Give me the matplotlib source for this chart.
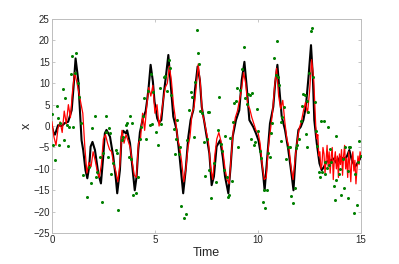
import matplotlib
matplotlib.use("Agg")
import matplotlib.pyplot as plt

# True trajectory (black)
true_t = [0.00,0.08,0.15,0.30,0.47,0.63,0.79,0.96,1.05,1.15,1.28,1.36,1.44,1.52,1.63,1.72,1.81,1.88,1.97,2.09,
          2.25,2.38,2.49,2.57,2.65,2.82,2.98,3.11,3.17,3.30,3.38,3.46,3.59,3.65,3.79,3.92,4.02,4.11,4.19,4.27,
          4.40,4.55,4.62,4.69,4.79,4.90,4.98,5.11,5.20,5.31,5.44,5.52,5.65,5.76,5.89,6.05,6.18,6.29,6.37,6.49,
          6.62,6.73,6.86,6.94,7.07,7.18,7.27,7.38,7.51,7.64,7.75,7.86,7.99,8.16,8.29,8.40,8.56,8.67,8.77,8.93,
          9.09,9.21,9.34,9.45,9.58,9.77,9.90,10.02,10.13,10.26,10.32,10.45,10.58,10.74,10.83,10.94,11.04,11.15,11.31,11.47,
          11.64,11.72,11.83,11.96,12.07,12.20,12.32,12.45,12.57,12.66,12.73,12.85,12.98,13.09,13.20,13.33,13.49,13.66,13.82,13.98,
          14.14,14.30,14.43,14.55,14.71,14.87,15.00]
true_x = [-0.1,-1.5,-2.0,0.2,0.0,0.7,1.0,3.7,9.0,15.8,10.7,3.7,-3.3,-5.6,-10.3,-12.2,-9.5,-4.8,-3.7,-5.6,
          -11.0,-13.4,-7.2,-1.7,-0.9,-2.5,-7.2,-12.6,-15.7,-10.3,-2.5,-1.1,-1.7,-1.0,-4.0,-10.3,-15.0,-11.8,-5.6,-1.5,
          1.5,3.5,6.0,8.8,14.3,10.4,5.7,1.8,0.8,1.4,8.0,11.1,16.6,10.0,2.2,-0.9,-6.4,-11.8,-15.7,-10.3,
          -2.5,1.4,3.7,8.4,13.9,10.7,4.5,1.4,-2.5,-6.4,-13.8,-11.8,-4.8,-3.3,-7.2,-11.8,-15.7,-9.5,-2.5,1.4,
          3.7,10.7,15.0,9.2,1.4,-0.2,-1.7,-3.3,-6.4,-11.8,-15.0,-7.2,0.6,4.5,10.0,14.3,8.4,2.2,-0.9,-5.6,
          -11.8,-15.0,-6.4,-0.9,-0.2,1.4,4.5,11.5,18.9,11.5,1.4,-4.0,-8.7,-10.3,-9.5,-8.3,-8.1,-7.6,-8.7,-7.2,
          -7.6,-7.2,-5.6,-8.0,-9.5,-8.3,-7.2]

# Estimate (red)
est_t = [0.0,0.1,0.2,0.3,0.4,0.5,0.6,0.7,0.8,0.9,
         1.0,1.1,1.2,1.3,1.4,1.5,1.6,1.7,1.8,1.9,
         2.0,2.1,2.2,2.3,2.4,2.5,2.6,2.7,2.8,2.9,
         3.0,3.1,3.2,3.3,3.4,3.5,3.6,3.7,3.8,3.9,
         4.0,4.1,4.2,4.3,4.4,4.5,4.6,4.7,4.8,4.9,
         5.0,5.1,5.2,5.3,5.4,5.5,5.6,5.7,5.8,5.9,
         6.0,6.1,6.2,6.3,6.4,6.5,6.6,6.7,6.8,6.9,
         7.0,7.1,7.2,7.3,7.4,7.5,7.6,7.7,7.8,7.9,
         8.0,8.1,8.2,8.3,8.4,8.5,8.6,8.7,8.8,8.9,
         9.0,9.1,9.2,9.3,9.4,9.5,9.6,9.7,9.8,9.9,
         10.0,10.1,10.2,10.3,10.4,10.5,10.6,10.7,10.8,10.9,
         11.0,11.1,11.2,11.3,11.4,11.5,11.6,11.7,11.8,11.9,
         12.0,12.1,12.2,12.3,12.4,12.5,12.6,12.7,
         12.80,12.85,12.90,12.95,13.00,13.05,13.10,13.15,13.20,13.25,
         13.30,13.35,13.40,13.45,13.50,13.55,13.60,13.65,13.70,13.75,
         13.80,13.85,13.90,13.95,14.00,14.05,14.10,14.15,14.20,14.25,
         14.30,14.35,14.40,14.45,14.50,14.55,14.60,14.65,14.70,14.75,
         14.80,14.85,14.90,14.95,15.00]
est_x = [1.0,-2.5,-4.5,-0.5,1.0,-1.5,3.5,0.5,5.0,2.0,
         8.0,12.5,10.5,8.0,5.5,3.0,-5.0,-11.0,-8.5,-9.5,
         -6.0,-8.0,-10.5,-12.0,-9.0,-3.0,-2.0,-4.0,-5.5,-6.0,
         -9.0,-10.5,-13.0,-9.0,-1.0,-4.0,-2.0,-3.5,-5.0,-8.5,
         -11.5,-12.0,-4.0,-3.0,3.0,-1.0,4.5,9.0,7.0,9.5,
         3.0,5.0,0.0,2.5,6.0,9.0,10.0,14.0,10.5,5.0,
         1.5,-3.0,-5.0,-8.5,-13.0,-10.0,-5.0,-2.5,3.0,4.5,
         9.0,14.5,10.0,3.0,1.0,-1.5,-4.0,-9.5,-12.5,-7.0,
         -3.0,-1.5,-3.5,-6.0,-10.0,-12.5,-13.5,-7.0,-1.0,2.0,
         3.5,6.0,8.5,12.5,10.0,5.0,4.0,2.0,0.5,-1.0,
         -1.5,-4.0,-9.0,-12.5,-12.0,-5.0,-1.0,3.0,9.0,13.5,
         7.0,4.0,6.0,1.0,-3.0,-5.0,-9.5,-12.5,-7.5,-3.5,
         -0.5,1.0,3.5,5.5,3.0,8.0,15.5,11.0,
         0.0,-3.0,-2.0,-7.0,-6.0,-10.0,-9.0,-5.0,-6.5,-11.0,
         -8.0,-4.5,-9.5,-6.0,-11.0,-7.0,-5.0,-12.5,-8.0,-6.0,
         -10.0,-7.0,-12.0,-6.5,-9.0,-5.5,-11.5,-7.0,-4.5,-10.0,
         -7.5,-12.0,-6.0,-9.0,-13.0,-8.0,-6.0,-10.5,-8.0,-13.5,
         -10.0,-7.0,-9.0,-6.0,-7.0]

# Observations (green)
obs_t = [0.00,0.06,0.15,0.23,0.31,0.34,0.39,0.55,0.58,0.63,0.71,0.79,0.84,0.91,0.99,1.04,1.10,1.15,1.25,1.33,
         1.39,1.52,1.68,1.81,1.88,1.96,2.09,2.14,2.20,2.33,2.41,2.49,2.62,2.65,2.73,2.78,2.82,2.86,2.98,3.11,
         3.17,3.22,3.38,3.46,3.59,3.66,3.74,3.77,3.82,3.88,3.93,4.09,4.17,4.26,4.34,4.42,4.47,4.58,4.66,4.74,
         4.82,4.85,4.90,5.06,5.14,5.23,5.31,5.44,5.50,5.60,5.66,5.71,5.78,5.91,5.99,6.04,6.07,6.15,6.23,6.26,
         6.39,6.50,6.55,6.67,6.75,6.79,6.88,6.93,7.04,7.09,7.15,7.20,7.28,7.36,7.44,7.51,7.56,7.61,7.64,7.72,
         7.88,7.96,8.04,8.12,8.20,8.25,8.37,8.42,8.48,8.53,8.61,8.64,8.74,8.80,8.85,8.93,8.96,9.04,9.14,9.22,
         9.30,9.38,9.45,9.50,9.61,9.64,9.69,9.82,9.85,9.93,10.02,10.10,10.14,10.26,10.31,10.34,10.42,10.50,10.58,10.63,
         10.66,10.79,10.85,10.90,10.99,11.04,11.10,11.12,11.18,11.26,11.34,11.46,11.55,11.62,11.72,11.78,11.83,11.91,11.99,12.07,
         12.15,12.20,12.27,12.31,12.36,12.40,12.44,12.47,12.56,12.60,12.69,12.75,12.80,12.85,12.95,13.01,13.04,13.12,13.19,13.23,
         13.27,13.35,13.40,13.46,13.51,13.56,13.67,13.72,13.76,13.79,13.95,14.00,14.04,14.10,14.19,14.24,14.35,14.37,14.40,14.48,
         14.64,14.72,14.80,14.85,14.92,15.00]
obs_x = [2.8,-4.4,-7.9,4.8,1.8,-4.4,0.6,8.6,-3.3,6.5,0.2,-4.7,-0.2,12.1,16.4,-0.2,12.3,17.1,10.1,6.7,
         0.6,-11.5,-16.5,-9.5,-13.2,-0.5,2.4,-11.8,-10.8,-7.2,-17.7,-6.4,2.4,-1.3,-7.2,-0.5,-1.7,-11.1,-8.7,-5.6,
         -6.4,-19.6,-3.3,-2.5,0.2,0.6,-7.2,2.4,-7.6,0.6,-16.0,-15.7,-11.8,-3.0,-0.2,2.3,6.6,-3.0,8.2,0.2,
         12.1,0.5,8.0,-1.3,-4.4,8.8,0.4,11.5,11.7,8.2,15.4,13.5,7.2,-0.7,-6.6,-3.0,1.4,-6.6,-5.0,-18.7,
         -21.4,-20.6,-3.3,3.8,8.0,6.8,-2.5,10.3,22.4,17.0,14.6,3.5,3.0,-3.8,-11.7,-3.0,3.3,3.4,-10.3,-16.8,
         -8.7,-13.0,-0.9,6.8,-4.1,-5.9,-10.3,-2.3,-11.8,-16.5,-16.1,-2.7,-12.8,1.0,5.3,5.8,9.0,-4.8,8.4,13.3,
         18.4,6.6,5.1,7.4,7.2,-3.0,7.8,-4.4,-3.7,4.1,-1.2,-5.9,-7.4,-17.7,-14.9,-19.1,-14.9,-6.4,-7.2,-1.7,
         0.6,15.8,11.9,19.9,11.5,9.6,1.0,-3.5,2.1,4.5,-7.6,-4.8,-4.8,-16.3,-17.9,-14.4,-5.2,-4.4,-3.0,1.2,
         4.8,7.5,7.2,-1.9,5.8,-5.0,3.4,12.5,22.2,22.8,11.5,5.7,-1.1,-4.7,-10.7,-11.8,1.2,-10.7,1.2,-11.1,
         -8.3,-9.9,-0.2,-9.0,-5.4,-8.5,-13.9,-17.2,-2.3,-12.6,-11.3,-10.0,-16.1,-7.7,-14.4,-4.8,-16.9,-10.4,-4.8,-4.8,
         -20.2,-11.3,-18.5,-8.3,-3.5,-6.9]

x_ticks = [0, 5, 10, 15]
y_ticks = [-25, -20, -15, -10, -5, 0, 5, 10, 15, 20, 25]

plt.rcParams['font.family'] = ['Liberation Sans', 'DejaVu Sans']
fig = plt.figure(figsize=(3.99, 2.64), dpi=100)
ax = fig.add_axes([0.13, 0.117, 0.775, 0.811])

ax.plot(true_t, true_x, color='black', lw=1.5, zorder=2)
ax.plot(est_t, est_x, color='red', lw=0.9, zorder=3)
ax.plot(obs_t, obs_x, linestyle='none', marker='o', markersize=2.2,
        color=(0, 0.5, 0), markeredgewidth=0, zorder=4)

ax.set_xlim(0, 15)
ax.set_ylim(-25, 25)
ax.set_xticks(x_ticks)
ax.set_yticks(y_ticks)
ax.tick_params(direction='in', length=2.5, width=0.6, labelsize=7,
               color='#bdbdbd', labelcolor='#262626', top=True, right=True, pad=1.5)
for s in ax.spines.values():
    s.set_color('#bdbdbd')
    s.set_linewidth(0.7)
ax.set_xlabel('Time', fontsize=9, color='#262626', labelpad=1)
ax.set_ylabel('x', fontsize=9, color='#262626', labelpad=0)

fig.savefig('out.png', dpi=100)
